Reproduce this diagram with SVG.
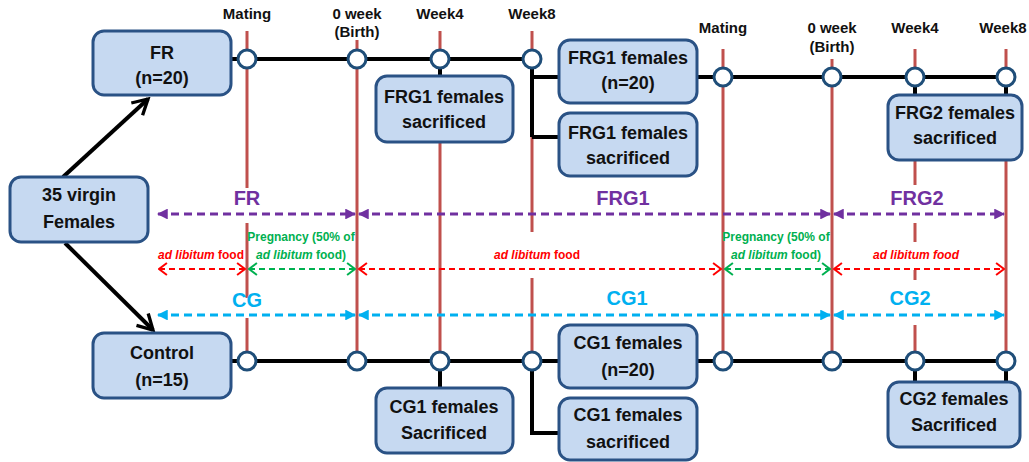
<svg xmlns="http://www.w3.org/2000/svg" width="1029" height="462" viewBox="0 0 1029 462">
<defs>
<style>
.lbl{font-family:"Liberation Sans",Arial,sans-serif;font-weight:bold;font-size:15px;fill:#111;text-anchor:middle}
.bt{font-family:"Liberation Sans",Arial,sans-serif;font-weight:bold;font-size:18px;fill:#111;text-anchor:middle}
.box{fill:#c6d9f1;stroke:#2a5285;stroke-width:3}
.red{stroke:#c0504d;stroke-width:3;fill:none}
.blk{stroke:#000;stroke-width:4;fill:none}
.dot{fill:#fff;stroke:#1f4e79;stroke-width:3}
.grp{font-family:"Liberation Sans",Arial,sans-serif;font-weight:bold;font-size:20px;text-anchor:middle}
.sm{font-family:"Liberation Sans",Arial,sans-serif;font-weight:bold;font-size:12px;text-anchor:middle}
.dash{stroke-width:3;stroke-dasharray:8 5;fill:none}
.dashs{stroke-width:2.2;stroke-dasharray:6 4;fill:none}
</style>
<marker id="aP" viewBox="0 0 10 10" refX="9" refY="5" markerWidth="3.6" markerHeight="3.6" orient="auto-start-reverse" markerUnits="strokeWidth"><path d="M0,0 L10,5 L0,10 Z" fill="#7030a0"/></marker>
<marker id="aB" viewBox="0 0 10 10" refX="9" refY="5" markerWidth="3.6" markerHeight="3.6" orient="auto-start-reverse" markerUnits="strokeWidth"><path d="M0,0 L10,5 L0,10 Z" fill="#00b0f0"/></marker>
<marker id="aR" viewBox="0 0 10 14" refX="9" refY="7" markerWidth="4.5" markerHeight="6.3" orient="auto-start-reverse" markerUnits="strokeWidth"><path d="M1,1 L9,7 L1,13" fill="none" stroke="#ff0000" stroke-width="2"/></marker>
<marker id="aG" viewBox="0 0 10 14" refX="9" refY="7" markerWidth="4.5" markerHeight="6.3" orient="auto-start-reverse" markerUnits="strokeWidth"><path d="M1,1 L9,7 L1,13" fill="none" stroke="#00b050" stroke-width="2"/></marker>
<marker id="aK" viewBox="0 0 12 12" refX="10" refY="6" markerWidth="5" markerHeight="5" orient="auto" markerUnits="strokeWidth"><path d="M1,1 L10,6 L1,11" fill="none" stroke="#000" stroke-width="2"/></marker>
</defs>
<rect width="1029" height="462" fill="#fff"/>

<g id="time-labels">
<text class="lbl" x="247" y="19">Mating</text>
<text class="lbl" x="357" y="19">0 week</text>
<text class="lbl" x="357" y="37">(Birth)</text>
<text class="lbl" x="440" y="19">Week4</text>
<text class="lbl" x="532" y="19">Week8</text>
<text class="lbl" x="723" y="33">Mating</text>
<text class="lbl" x="832" y="33">0 week</text>
<text class="lbl" x="832" y="52">(Birth)</text>
<text class="lbl" x="915" y="33">Week4</text>
<text class="lbl" x="1003" y="33">Week8</text>
</g>

<g id="time-lines">
<path class="red" d="M247,31V188M247,223V298M247,318V352"/>
<path class="red" d="M357,40V352"/>
<path class="red" d="M440,31V352"/>
<path class="red" d="M532,31V232M532,278V352"/>
<path class="red" d="M723,49V352"/>
<path class="red" d="M832,59V352"/>
<path class="red" d="M915,49V95M915,160V185M915,223V242M915,270V280M915,325V352"/>
<path class="red" d="M1006,49V352"/>
</g>

<g id="connectors">
<path class="blk" d="M231,59H532M532,59V137M532,77H559M532,137H559M697,77H1006M440,59V76M915,77V95M1006,77V95"/>
<path class="blk" d="M231,361H559M532,361V433H559M697,361H1006M440,361V388M915,361V382M1006,361V382"/>
<line class="blk" x1="63" y1="177" x2="148" y2="99" marker-end="url(#aK)"/>
<line class="blk" x1="65" y1="243" x2="153" y2="330" marker-end="url(#aK)"/>
</g>

<g id="periods">
<line class="dash" stroke="#7030a0" x1="158" y1="214" x2="355" y2="214" marker-start="url(#aP)" marker-end="url(#aP)"/>
<line class="dash" stroke="#7030a0" x1="359" y1="214" x2="830" y2="214" marker-start="url(#aP)" marker-end="url(#aP)"/>
<line class="dash" stroke="#7030a0" x1="834" y1="214" x2="1004" y2="214" marker-start="url(#aP)" marker-end="url(#aP)"/>
<line class="dash" stroke="#00b0f0" x1="158" y1="315" x2="355" y2="315" marker-start="url(#aB)" marker-end="url(#aB)"/>
<line class="dash" stroke="#00b0f0" x1="359" y1="315" x2="830" y2="315" marker-start="url(#aB)" marker-end="url(#aB)"/>
<line class="dash" stroke="#00b0f0" x1="834" y1="315" x2="1004" y2="315" marker-start="url(#aB)" marker-end="url(#aB)"/>
<line class="dashs" stroke="#ff0000" x1="159" y1="269" x2="245" y2="269" marker-start="url(#aR)" marker-end="url(#aR)"/>
<line class="dashs" stroke="#00b050" x1="249" y1="269" x2="355" y2="269" marker-start="url(#aG)" marker-end="url(#aG)"/>
<line class="dashs" stroke="#ff0000" x1="359" y1="269" x2="721" y2="269" marker-start="url(#aR)" marker-end="url(#aR)"/>
<line class="dashs" stroke="#00b050" x1="725" y1="269" x2="830" y2="269" marker-start="url(#aG)" marker-end="url(#aG)"/>
<line class="dashs" stroke="#ff0000" x1="834" y1="269" x2="1004" y2="269" marker-start="url(#aR)" marker-end="url(#aR)"/>
<text class="grp" fill="#7030a0" x="247" y="205">FR</text>
<text class="grp" fill="#7030a0" x="623" y="205">FRG1</text>
<text class="grp" fill="#7030a0" x="917" y="205">FRG2</text>
<text class="grp" fill="#00b0f0" x="247" y="307">CG</text>
<text class="grp" fill="#00b0f0" x="627" y="305">CG1</text>
<text class="grp" fill="#00b0f0" x="910" y="305">CG2</text>
<text class="sm" fill="#ff0000" x="201" y="259"><tspan font-style="italic">ad libitum</tspan> food</text>
<text class="sm" fill="#00b050" x="301" y="241">Pregnancy (50% of</text>
<text class="sm" fill="#00b050" x="301" y="259"><tspan font-style="italic">ad libitum</tspan> food)</text>
<text class="sm" fill="#ff0000" x="537" y="259"><tspan font-style="italic">ad libitum</tspan> food</text>
<text class="sm" fill="#00b050" x="776" y="241">Pregnancy (50% of</text>
<text class="sm" fill="#00b050" x="776" y="259"><tspan font-style="italic">ad libitum</tspan> food)</text>
<text class="sm" fill="#ff0000" font-style="italic" x="916" y="259">ad libitum food</text>
</g>

<g id="milestones">
<circle class="dot" cx="247" cy="59" r="9"/><circle class="dot" cx="357" cy="59" r="9"/><circle class="dot" cx="440" cy="59" r="9"/><circle class="dot" cx="532" cy="59" r="9"/>
<circle class="dot" cx="723" cy="77" r="9"/><circle class="dot" cx="832" cy="77" r="9"/><circle class="dot" cx="915" cy="77" r="9"/><circle class="dot" cx="1006" cy="77" r="9"/>
<circle class="dot" cx="247" cy="361" r="9"/><circle class="dot" cx="357" cy="361" r="9"/><circle class="dot" cx="440" cy="361" r="9"/><circle class="dot" cx="532" cy="361" r="9"/>
<circle class="dot" cx="723" cy="361" r="9"/><circle class="dot" cx="832" cy="361" r="9"/><circle class="dot" cx="915" cy="361" r="9"/><circle class="dot" cx="1006" cy="361" r="9"/>
</g>

<g id="n-virgin"><rect class="box" x="10" y="177" width="138" height="65" rx="11"/><text class="bt" x="79" y="201">35 virgin</text><text class="bt" x="79" y="228">Females</text></g>
<g id="n-fr"><rect class="box" x="93" y="31" width="138" height="64" rx="11"/><text class="bt" x="162" y="59">FR</text><text class="bt" x="162" y="84">(n=20)</text></g>
<g id="n-control"><rect class="box" x="93" y="333" width="138" height="65" rx="11"/><text class="bt" x="162" y="359">Control</text><text class="bt" x="162" y="386">(n=15)</text></g>
<g id="n-frg1-sac-a"><rect class="box" x="376" y="76" width="137" height="66" rx="11"/><text class="bt" x="444" y="103">FRG1 females</text><text class="bt" x="444" y="128">sacrificed</text></g>
<g id="n-frg1-n20"><rect class="box" x="559" y="40" width="138" height="63" rx="11"/><text class="bt" x="628" y="64">FRG1 females</text><text class="bt" x="628" y="89">(n=20)</text></g>
<g id="n-frg1-sac-b"><rect class="box" x="559" y="113" width="138" height="63" rx="11"/><text class="bt" x="628" y="139">FRG1 females</text><text class="bt" x="628" y="164">sacrificed</text></g>
<g id="n-frg2-sac"><rect class="box" x="888" y="95" width="134" height="65" rx="11"/><text class="bt" x="955" y="119">FRG2 females</text><text class="bt" x="955" y="144">sacrificed</text></g>
<g id="n-cg1-sac-a"><rect class="box" x="376" y="388" width="137" height="65" rx="11"/><text class="bt" x="444" y="413">CG1 females</text><text class="bt" x="444" y="439">Sacrificed</text></g>
<g id="n-cg1-n20"><rect class="box" x="559" y="325" width="138" height="63" rx="11"/><text class="bt" x="628" y="349">CG1 females</text><text class="bt" x="628" y="376">(n=20)</text></g>
<g id="n-cg1-sac-b"><rect class="box" x="559" y="398" width="138" height="62" rx="11"/><text class="bt" x="628" y="421">CG1 females</text><text class="bt" x="628" y="448">sacrificed</text></g>
<g id="n-cg2-sac"><rect class="box" x="888" y="382" width="132" height="65" rx="11"/><text class="bt" x="954" y="405">CG2 females</text><text class="bt" x="954" y="431">Sacrificed</text></g>
</svg>
